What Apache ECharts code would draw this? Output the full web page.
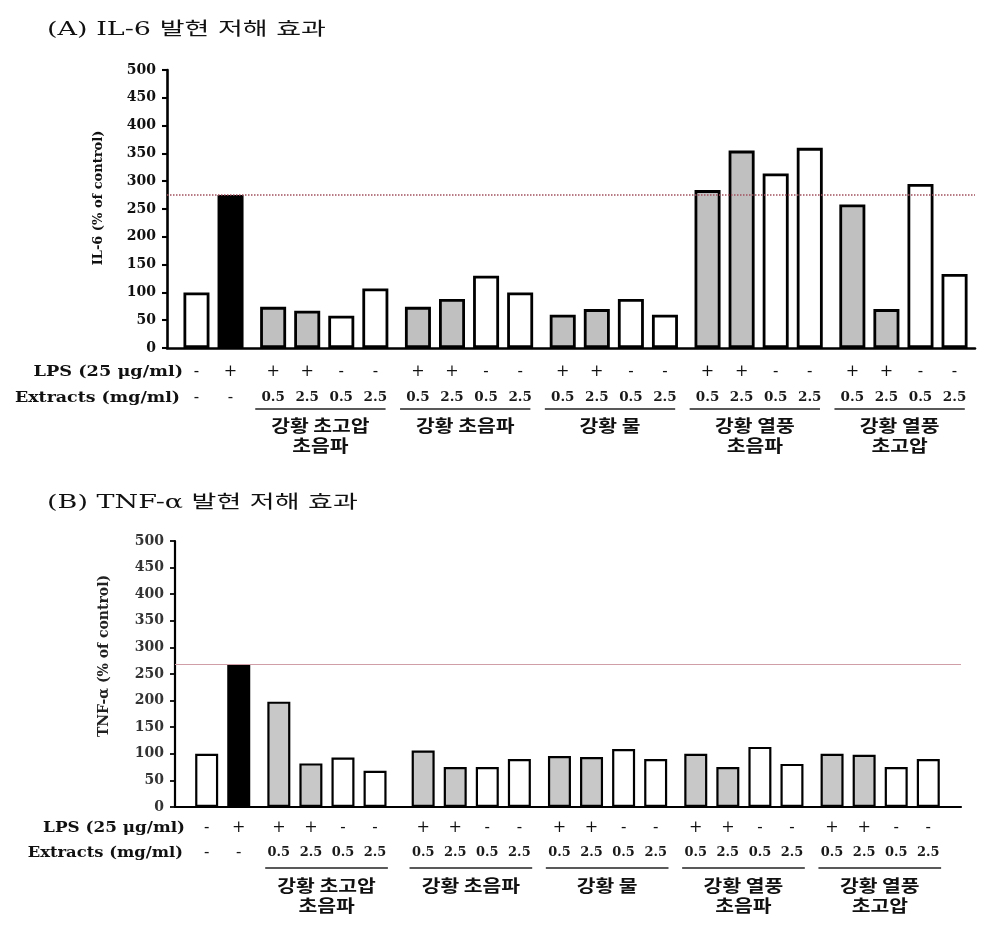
<!DOCTYPE html>
<html>
<head>
<meta charset="utf-8">
<script src="https://cdn.jsdelivr.net/npm/echarts@6/dist/echarts.min.js"></script>
<style>
  html, body { margin: 0; padding: 0; background: #fff; }
  #chart { width: 992px; height: 942px; }
</style>
</head>
<body>
<div id="chart"></div>
<script>
// ---------------- DATA ----------------
const titleA = '(A) IL-6 발현 저해 효과';
const titleB = '(B) TNF-α 발현 저해 효과';
const yNameA = 'IL-6 (% of control)';
const yNameB = 'TNF-α (% of control)';
const lpsHeader = 'LPS (25 μg/ml)';
const extractHeader = 'Extracts (mg/ml)';

const lpsRow = ['-', '+', '+', '+', '-', '-', '+', '+', '-', '-', '+', '+', '-', '-', '+', '+', '-', '-', '+', '+', '-', '-'];
const extractRow = ['-', '-', '0.5', '2.5', '0.5', '2.5', '0.5', '2.5', '0.5', '2.5', '0.5', '2.5', '0.5', '2.5', '0.5', '2.5', '0.5', '2.5', '0.5', '2.5', '0.5', '2.5'];
const groupNames = ['', '강황 초고압\n초음파', '강황 초음파', '강황 물', '강황 열풍\n초음파', '강황 열풍\n초고압'];
const groupSizes = [2, 4, 4, 4, 4, 4];

const il6Values = [100, 275, 74, 67, 58, 107, 74, 88, 130, 100, 60, 70, 88, 60, 284, 355, 314, 360, 258, 70, 295, 133];
const tnfValues = [100, 269, 198, 82, 93, 68, 106, 75, 75, 90, 96, 94, 109, 90, 100, 75, 113, 81, 100, 98, 75, 90];

const yTicks = { min: 0, max: 500, step: 50 };

// ---------------- LAYOUT ----------------
function slotPositions(sizes, gaps) {
  const out = []; let x = 0;
  sizes.forEach((n, g) => {
    if (g > 0) x += gaps[g - 1];
    for (let i = 0; i < n; i++) { if (i > 0) x += 4; out.push(x); }
  });
  return out;
}
const posA = slotPositions(groupSizes, [5, 5, 5, 5, 5]);
const posB = slotPositions(groupSizes, [5, 6, 5, 5, 5]);
const groupRanges = (pos) => {
  const r = []; let k = 0;
  groupSizes.forEach((n, g) => { r.push([pos[k], pos[k + n - 1], groupNames[g]]); k += n; });
  return r;
};

const lpsOnlyIdx = lpsRow.findIndex((s, i) => s === '+' && extractRow[i] === '-');
function fillFor(i, gray) {
  if (lpsRow[i] === '+' && extractRow[i] === '-') return '#000000';
  if (lpsRow[i] === '+') return gray;
  return '#ffffff';
}

const SERIF = '"DejaVu Serif", "Liberation Serif", serif';
const KR = '"Noto Sans CJK KR", sans-serif';

function buildPanel(k, values, pos, cfg) {
  const barSeries = {
    type: 'bar', xAxisIndex: k, yAxisIndex: k, barWidth: cfg.barWidth, silent: true,
    data: values.map((v, i) => ({ value: [pos[i], v], itemStyle: { color: fillFor(i, cfg.gray) } })),
    itemStyle: { borderColor: '#000', borderWidth: cfg.border },
    markLine: {
      silent: true, symbol: 'none', label: { show: false },
      lineStyle: { color: cfg.refColor, type: cfg.refType, width: cfg.refWidth },
      data: [{ yAxis: values[lpsOnlyIdx] }]
    },
    z: 3
  };
  const rowSeries = {
    type: 'custom', xAxisIndex: k, yAxisIndex: k, silent: true, clip: false,
    data: pos.map((p, i) => [p, 0, i]),
    renderItem: function (params, api) {
      const i = api.value(2);
      const c = api.coord([api.value(0), 0]);
      return {
        type: 'group', children: [
          { type: 'text', x: c[0], y: c[1] + cfg.lpsOff,
            style: { text: lpsRow[i], align: 'center', verticalAlign: 'middle', fill: '#111', font: 'normal ' + cfg.signSize + 'px ' + SERIF } },
          { type: 'text', x: c[0], y: c[1] + cfg.extOff, scaleX: extractRow[i] === '-' ? 1 : 1.08,
            style: { text: extractRow[i], align: 'center', verticalAlign: 'middle', fill: '#1a1a1a', font: (extractRow[i] === '-' ? 'normal ' + cfg.signSize : 'bold ' + cfg.numSize) + 'px ' + SERIF } }
        ]
      };
    }
  };
  const groupSeries = {
    type: 'custom', xAxisIndex: k, yAxisIndex: k, silent: true, clip: false,
    data: groupRanges(pos).map((g, j) => [g[0], g[1], j]).filter(d => groupNames[d[2]] !== ''),
    renderItem: function (params, api) {
      const j = api.value(2);
      const a = api.coord([api.value(0) + cfg.lineL, 0]);
      const b = api.coord([api.value(1) + cfg.lineR, 0]);
      const y = a[1] + cfg.lineOff;
      return {
        type: 'group', children: [
          { type: 'line', shape: { x1: a[0], y1: y, x2: b[0], y2: y }, style: { stroke: '#222', lineWidth: 1.5 } },
          { type: 'text', x: (a[0] + b[0]) / 2, y: y + cfg.nameOff, scaleX: 1.2,
            style: { text: groupNames[j], align: 'center', verticalAlign: 'top', fill: '#111', lineHeight: 20, font: 'bold ' + cfg.nameSize + 'px ' + KR } }
        ]
      };
    }
  };
  return [barSeries, rowSeries, groupSeries];
}

const cfgA = { barWidth: 26, border: 2.8, gray: '#c0c0c0', refColor: '#a0505e', refType: 'dotted', refWidth: 1.5,
  lpsOff: 24, extOff: 50, lineOff: 61, nameOff: 7, lineL: -2.1, lineR: 1.2, signSize: 16, numSize: 12.5, nameSize: 17 };
const cfgB = { barWidth: 23, border: 2.2, gray: '#c8c8c8', refColor: '#cf9ea6', refType: 'solid', refWidth: 1.2,
  lpsOff: 21, extOff: 46, lineOff: 61, nameOff: 8, lineL: -1.7, lineR: 1.6, signSize: 16, numSize: 12, nameSize: 17 };

function yAxisFor(k, lw, color) {
  return {
    type: 'value', gridIndex: k, min: yTicks.min, max: yTicks.max, interval: yTicks.step,
    axisLine: { show: true, onZero: false, lineStyle: { color: '#000', width: lw } },
    axisTick: { show: true, inside: false, length: 5, lineStyle: { color: '#000', width: lw * 0.8 } },
    axisLabel: { margin: 11, color: color, fontFamily: SERIF, fontWeight: 'bold', fontSize: 14 },
    splitLine: { show: false }
  };
}
function xAxisFor(k, min, max, lw) {
  return {
    type: 'value', gridIndex: k, min: min, max: max,
    axisLine: { show: true, onZero: false, lineStyle: { color: '#000', width: lw } },
    axisTick: { show: false }, axisLabel: { show: false }, splitLine: { show: false }
  };
}

const txt = (x, y, text, font, align, extra) => Object.assign({
  type: 'text', x: x, y: y, silent: true,
  style: { text: text, align: align || 'left', verticalAlign: 'middle', fill: '#111', font: font }
}, extra || {});

const chart = echarts.init(document.getElementById('chart'));
chart.setOption({
  backgroundColor: '#ffffff',
  animation: false,
  grid: [
    { left: 167, top: 70, width: 808, height: 278 },
    { left: 175, top: 541, width: 786, height: 266 }
  ],
  xAxis: [xAxisFor(0, -3.46, 91.4, 2.6), xAxisFor(1, -3.95, 94.08, 2.2)],
  yAxis: [yAxisFor(0, 2.6, '#111'), yAxisFor(1, 2.2, '#333')],
  series: [].concat(buildPanel(0, il6Values, posA, cfgA), buildPanel(1, tnfValues, posB, cfgB)),
  graphic: [
    txt(47, 30, titleA, '18px ' + SERIF + ', ' + KR, 'left', { scaleX: 1.5 }),
    txt(47, 503, titleB, '18px ' + SERIF + ', ' + KR, 'left', { scaleX: 1.5 }),
    txt(99, 198, yNameA, 'bold 13px ' + SERIF, 'center', { rotation: Math.PI / 2 }),
    txt(104, 656, yNameB, 'bold 14px ' + SERIF, 'center', { rotation: Math.PI / 2, style: { text: yNameB, align: 'center', verticalAlign: 'middle', fill: '#222', font: 'bold 14px ' + SERIF } }),
    txt(183, 372, lpsHeader, 'bold 15px ' + SERIF, 'right', { scaleX: 1.18 }),
    txt(180, 398, extractHeader, 'bold 15px ' + SERIF, 'right', { scaleX: 1.16 }),
    txt(185, 828, lpsHeader, 'bold 14px ' + SERIF, 'right', { scaleX: 1.2 }),
    txt(183, 853, extractHeader, 'bold 14px ' + SERIF, 'right', { scaleX: 1.17 })
  ]
});
</script>
</body>
</html>
